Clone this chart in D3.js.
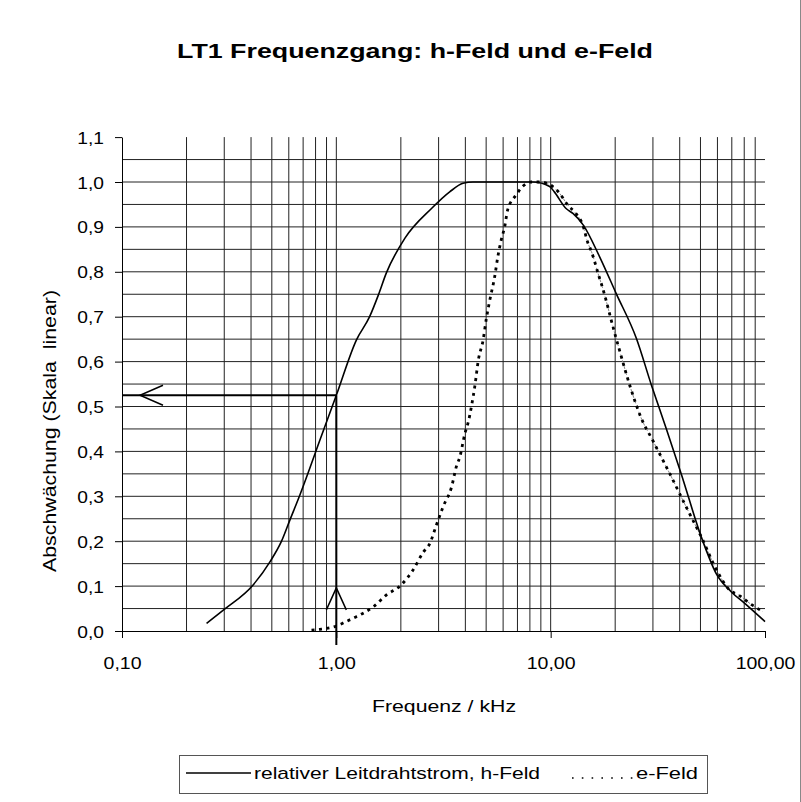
<!DOCTYPE html>
<html>
<head>
<meta charset="utf-8">
<script src="https://cdn.jsdelivr.net/npm/d3@7"></script>
<style>
  html, body { margin: 0; padding: 0; background: #fff; }
  svg { display: block; font-family: "Liberation Sans", Arial, sans-serif; }
</style>
</head>
<body>
<svg id="chart" width="801" height="802"></svg>
<script>
// ---- data ----
const titleText = "LT1 Frequenzgang: h-Feld und e-Feld";
const xTitle = "Frequenz / kHz";
const yTitle = "Abschwächung (Skala  linear)";
const seriesNames = ["relativer Leitdrahtstrom, h-Feld", "e-Feld"];
const xTicks = [0.1, 1, 10, 100];
const yTicks = [0, 0.1, 0.2, 0.3, 0.4, 0.5, 0.6, 0.7, 0.8, 0.9, 1.0, 1.1];
const yGrid = [0.05, 0.1, 0.15, 0.2, 0.25, 0.3, 0.35, 0.4, 0.45, 0.5, 0.55, 0.6, 0.65, 0.7, 0.75, 0.8, 0.85, 0.9, 0.95, 1.0, 1.05];

// h-Feld: [kHz, value]
const hFeld = [
  [0.248, 0.017], [0.30, 0.048], [0.408, 0.102], [0.49, 0.154], [0.555, 0.20],
  [0.607, 0.247], [0.676, 0.303], [0.85, 0.433], [1.0, 0.525], [1.24, 0.648],
  [1.43, 0.700], [1.57, 0.748], [1.71, 0.797], [2.09, 0.875], [2.78, 0.941],
  [3.38, 0.978], [3.9, 0.997], [4.34, 1.0], [8.27, 1.0], [9.89, 0.99],
  [10.4, 0.978], [11.8, 0.941], [12.7, 0.93], [14.2, 0.904], [16.9, 0.834],
  [20.2, 0.752], [25.1, 0.652], [29.5, 0.548], [34.6, 0.451], [40.6, 0.351],
  [50.4, 0.21], [59.2, 0.128], [69.5, 0.0875], [80.2, 0.062], [100, 0.021]
];
// e-Feld: [kHz, value]
const eFeld = [
  [0.766, 0.002], [0.85, 0.004], [1.0, 0.011], [1.11, 0.021], [1.24, 0.032],
  [1.49, 0.054], [1.71, 0.080], [2.0, 0.102], [2.28, 0.136], [2.54, 0.175],
  [2.73, 0.195], [2.93, 0.236], [3.15, 0.277], [3.45, 0.321], [3.63, 0.366],
  [3.77, 0.388], [3.98, 0.44], [4.13, 0.466], [4.28, 0.503], [4.43, 0.546],
  [4.6, 0.604], [4.84, 0.648], [5.0, 0.693], [5.2, 0.737], [5.48, 0.789],
  [5.67, 0.834], [5.88, 0.871], [6.1, 0.90], [6.3, 0.938], [6.9, 0.971],
  [7.4, 0.99], [8.1, 1.0], [8.9, 1.0], [10.0, 0.993], [11.0, 0.975],
  [12.0, 0.949], [13.1, 0.93], [14.1, 0.905], [14.9, 0.865], [15.5, 0.845],
  [16.8, 0.79], [17.4, 0.767], [19.8, 0.667], [20.9, 0.627], [23.5, 0.544],
  [25.1, 0.503], [26.3, 0.477], [29.9, 0.425], [35.9, 0.351], [42.8, 0.277],
  [50.4, 0.21], [60.0, 0.132], [68.5, 0.091], [75.3, 0.080], [87.0, 0.058],
  [97.8, 0.043]
];
// annotation: read-off at 1 kHz -> 0.525
const markerFreq = 1.0;
const markerValue = 0.525;

// ---- layout ----
const svg = d3.select("#chart");
const x = d3.scaleLog().domain([0.1, 100]).range([122, 765]);
const y = d3.scaleLinear().domain([0, 1.1]).range([631, 137.1]);
const fmt = s => d3.format(s);
const deComma = f => v => f(v).replace(".", ",");

// outer frame (right edge)
svg.append("line").attr("x1", 800.5).attr("x2", 800.5).attr("y1", 0).attr("y2", 802)
  .attr("stroke", "#888").attr("stroke-width", 1);

// title
svg.append("text")
  .attr("x", 415).attr("y", 58)
  .attr("text-anchor", "middle")
  .attr("font-size", 20).attr("font-weight", "bold")
  .attr("textLength", 476).attr("lengthAdjust", "spacingAndGlyphs")
  .text(titleText);

// grid
const grid = svg.append("g");
grid.selectAll("line.h").data(yGrid).enter().append("line")
  .attr("x1", x(0.1)).attr("x2", x(100))
  .attr("y1", d => y(d)).attr("y2", d => y(d))
  .attr("stroke", "#222").attr("stroke-width", 1);
const vTicks = x.ticks().filter(t => t > 0.1 * 1.001 && t < 100 * 0.999);
grid.selectAll("line.v").data(vTicks).enter().append("line")
  .attr("x1", d => x(d)).attr("x2", d => x(d))
  .attr("y1", y(1.1)).attr("y2", y(0))
  .attr("stroke", "#222").attr("stroke-width", 1);

// axes
const xAxis = d3.axisBottom(x).tickValues(xTicks).tickSize(7).tickSizeOuter(0)
  .tickFormat(deComma(fmt(".2f")));
const gx = svg.append("g").attr("transform", `translate(0,${y(0)})`).call(xAxis);
gx.select(".domain").attr("stroke", "#000");
gx.selectAll(".tick line").attr("stroke", "#000");
gx.selectAll(".tick text")
  .attr("y", 0).attr("dy", 0)
  .attr("transform", "translate(0,38) scale(1.22,1)")
  .attr("font-size", 16).attr("font-family", "Liberation Sans, Arial, sans-serif")
  .attr("fill", "#000");

const yAxis = d3.axisLeft(y).tickValues(yTicks).tickSize(7).tickSizeOuter(0)
  .tickFormat(deComma(fmt(".1f")));
const gy = svg.append("g").attr("transform", `translate(${x(0.1)},0)`).call(yAxis);
gy.select(".domain").attr("stroke", "#000");
gy.selectAll(".tick line").attr("stroke", "#000");
gy.selectAll(".tick text")
  .attr("x", 0).attr("dy", 0)
  .attr("transform", "translate(-18,6) scale(1.2,1)")
  .attr("text-anchor", "end")
  .attr("font-size", 16).attr("font-family", "Liberation Sans, Arial, sans-serif")
  .attr("fill", "#000");

// axis titles
svg.append("text")
  .attr("x", 444).attr("y", 712)
  .attr("text-anchor", "middle").attr("font-size", 17)
  .attr("textLength", 144).attr("lengthAdjust", "spacingAndGlyphs")
  .text(xTitle);
svg.append("text")
  .attr("transform", "translate(56,431) rotate(-90)")
  .attr("text-anchor", "middle").attr("font-size", 18)
  .style("white-space", "pre")
  .attr("textLength", 282).attr("lengthAdjust", "spacingAndGlyphs")
  .text(yTitle);

// curves
const line = d3.line().x(d => x(d[0])).y(d => y(d[1])).curve(d3.curveMonotoneX);
const peakE = d3.max(eFeld, d => d[1]);
const peakIdx = eFeld.findIndex(d => d[1] === peakE);
svg.append("path").datum(eFeld.slice(peakIdx + 1))
  .attr("d", line).attr("fill", "none")
  .attr("stroke", "#888").attr("stroke-width", 1).attr("stroke-dasharray", "3,3");
svg.append("path").datum(eFeld)
  .attr("d", line).attr("fill", "none")
  .attr("stroke", "#000").attr("stroke-width", 2.8).attr("stroke-dasharray", "3,4.5");
svg.append("path").datum(hFeld)
  .attr("d", line).attr("fill", "none")
  .attr("stroke", "#000").attr("stroke-width", 1.6);

// annotation arrows
const ann = svg.append("g").attr("stroke", "#000").attr("stroke-width", 2).attr("fill", "none");
ann.append("line")
  .attr("x1", x(0.1)).attr("x2", x(markerFreq))
  .attr("y1", y(markerValue)).attr("y2", y(markerValue));
ann.append("line")
  .attr("x1", x(markerFreq)).attr("x2", x(markerFreq))
  .attr("y1", y(markerValue)).attr("y2", y(0) + 14);
// horizontal arrowhead (open, pointing left)
const tipH = x(0.1) + 18, wingH = x(0.1) + 41;
ann.append("path").attr("stroke-width", 1.5)
  .attr("d", `M${wingH},${y(markerValue) - 10} L${tipH},${y(markerValue)} L${wingH},${y(markerValue) + 10}`);
// vertical arrowhead (open, pointing up)
const xm = x(markerFreq);
ann.append("path").attr("stroke-width", 1.5)
  .attr("d", `M${xm - 10},${y(0.047)} L${xm},${y(0.096)} L${xm + 10},${y(0.047)}`);

// legend
const lg = svg.append("g");
lg.append("rect").attr("x", 179.5).attr("y", 755.5).attr("width", 528).attr("height", 38)
  .attr("fill", "#fff").attr("stroke", "#555").attr("stroke-width", 1);
lg.append("line").attr("x1", 186).attr("x2", 251).attr("y1", 773).attr("y2", 773)
  .attr("stroke", "#000").attr("stroke-width", 1.5);
lg.append("text").attr("x", 254).attr("y", 779).attr("font-size", 17)
  .attr("textLength", 286).attr("lengthAdjust", "spacingAndGlyphs")
  .text(seriesNames[0]);
lg.append("line").attr("x1", 572).attr("x2", 634).attr("y1", 778).attr("y2", 778)
  .attr("stroke", "#000").attr("stroke-width", 1.6).attr("stroke-dasharray", "1.6,8.2");
lg.append("text").attr("x", 636).attr("y", 779).attr("font-size", 17)
  .attr("textLength", 62).attr("lengthAdjust", "spacingAndGlyphs")
  .text(seriesNames[1]);
</script>
</body>
</html>
